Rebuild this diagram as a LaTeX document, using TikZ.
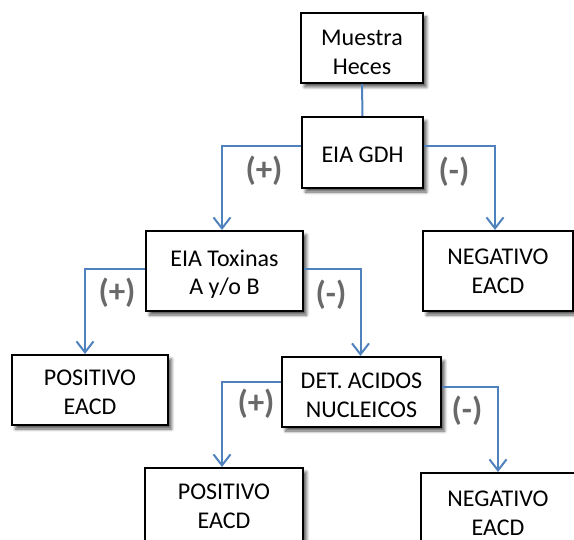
\documentclass[tikz,border=0pt]{standalone}
\usepackage{fontspec}
\setmainfont{Carlito}
\usetikzlibrary{arrows.meta,shadows.blur}
\definecolor{linkblue}{RGB}{79,129,189}
\definecolor{signgray}{RGB}{105,105,105}
\tikzset{
  stepbox/.style={draw=black, line width=2pt, fill=white, inner sep=0pt,
    blur shadow={shadow xshift=3.5pt, shadow yshift=-4pt, shadow blur steps=6,
      shadow blur radius=3pt, shadow opacity=65}},
  boxtext/.style={align=center, inner sep=0pt, font=\fontsize{24}{28.5}\selectfont},
  link/.style={draw=linkblue, line width=2pt},
  arrowlink/.style={link, -{Straight Barb[length=11pt,width=17pt,line width=2pt]}},
  sign/.style={text=signgray, font=\fontsize{33}{33}\selectfont\bfseries, inner sep=0pt}
}
\begin{document}
\begin{tikzpicture}[x=1pt, y=-1pt]
  \useasboundingbox (0,0) rectangle (574,540);
  \clip (0,0) rectangle (574,540);
  % boxes, each with its caption set as a centred label
  \node[stepbox, minimum width=122pt, minimum height=70pt,
    label={[boxtext, yshift=-4.5pt]center:Muestra\\Heces}] (muestra) at (362,48) {};
  \node[stepbox, minimum width=121pt, minimum height=71pt,
    label={[boxtext, yshift=-2.5pt]center:EIA GDH}] (gdh) at (362.5,152.5) {};
  \node[stepbox, minimum width=157pt, minimum height=80pt,
    label={[boxtext, yshift=-3pt]center:EIA Toxinas\\A y/o B}] (tox) at (224.5,271) {};
  \node[stepbox, minimum width=150pt, minimum height=80pt,
    label={[boxtext, yshift=-0.5pt]center:NEGATIVO\\EACD}] (neg1) at (498,271) {};
  \node[stepbox, minimum width=156pt, minimum height=70pt,
    label={[boxtext, yshift=-2.5pt]center:POSITIVO\\EACD}] (pos1) at (90,390) {};
  \node[stepbox, minimum width=159pt, minimum height=70pt,
    label={[boxtext, yshift=-3.5pt]center:DET. ACIDOS\\NUCLEICOS}] (det) at (361.5,392) {};
  \node[stepbox, minimum width=158pt, minimum height=80pt,
    label={[boxtext, yshift=1.5pt]center:POSITIVO\\EACD}] (pos2) at (224,508) {};
  \node[stepbox, minimum width=154pt, minimum height=80pt,
    label={[boxtext, yshift=-0.5pt]center:NEGATIVO\\EACD}] (neg2) at (498,513) {};
  % connectors
  \draw[link] (muestra.south) -- (gdh.north);
  \draw[arrowlink] ([yshift=6.5pt]gdh.west) -| ([xshift=-2.5pt]tox.north);
  \draw[arrowlink] ([yshift=6.5pt]gdh.east) -| ([xshift=-3pt]neg1.north);
  \draw[arrowlink] ([yshift=2pt]tox.west) -| ([xshift=-5pt]pos1.north);
  \draw[arrowlink] ([yshift=2pt]tox.east) -| ([xshift=-1pt]det.north);
  \draw[arrowlink] ([yshift=10pt]det.west) -| ([xshift=-2pt]pos2.north);
  \draw[arrowlink] ([yshift=5pt]det.east) -| (neg2.north);
  % branch signs
  \node[sign] (s1) at (264,171) {(+)};
  \node[sign] (s2) at (454,172) {(-)};
  \node[sign] (s3) at (117,293) {(+)};
  \node[sign] (s4) at (331,295) {(-)};
  \node[sign] (s5) at (256,404) {(+)};
  \node[sign] (s6) at (467,411) {(-)};
\end{tikzpicture}
\end{document}
